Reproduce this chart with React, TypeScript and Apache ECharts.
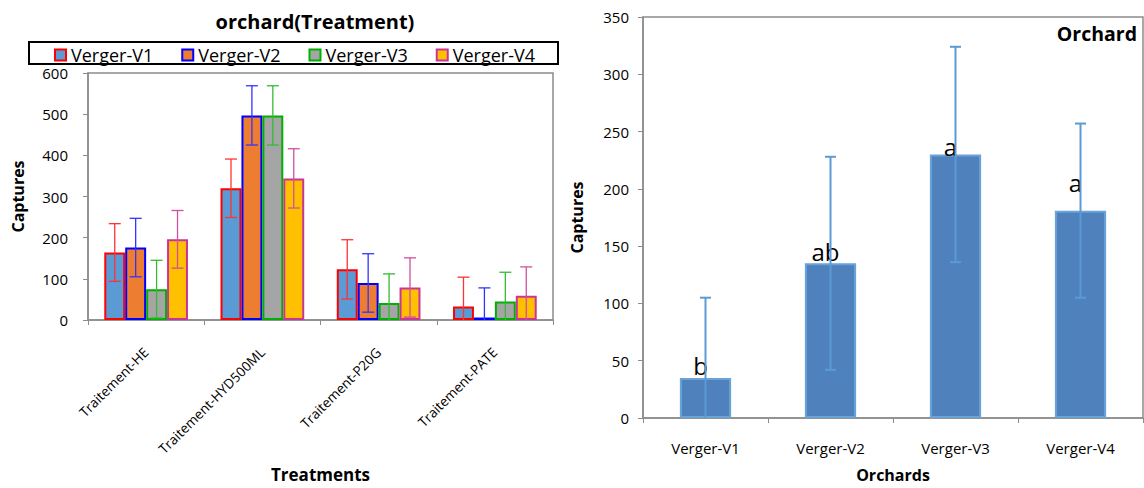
import React, { useEffect, useRef } from "react";
import * as echarts from "echarts";

// ---------- data ----------
const treatments = ["Traitement-HE", "Traitement-HYD500ML", "Traitement-P20G", "Traitement-PATE"];
const orchardNames = ["Verger-V1", "Verger-V2", "Verger-V3", "Verger-V4"];

const v1Means = [164, 320, 123, 33];
const v1Errors = [70, 71, 72, 71];
const v2Means = [176, 497, 90, 6];
const v2Errors = [71, 72, 71, 72];
const v3Means = [75, 497, 41, 45];
const v3Errors = [70, 72, 71, 71];
const v4Means = [196, 344, 79, 59];
const v4Errors = [70, 72, 72, 70];

const orchardMeans = [35, 135, 230, 181];
const orchardErrors = [70, 93, 94, 76];
const orchardLetters = ["b", "ab", "a", "a"];

const leftTitle = "orchard(Treatment)";
const rightTitle = "Orchard";

// ---------- styles ----------
const FONT = "Open Sans";
const fills = ["#5B9BD5", "#ED7D31", "#A5A5A5", "#FFC000"];
const borders = ["#FF0000", "#0000FF", "#00B000", "#CC3399"];
const errColors = ["#FF3333", "#3333FF", "#33BB33", "#D0509F"];
const AXIS_GRAY = "#8C8C8C";
const BAR_GAP_RATIO = 0.28;

function errorRender(seriesIdx: number, nSeries: number, gapRatio: number, color: string, capW: number, lw: number) {
  return (params: any, api: any) => {
    const cat = api.value(0);
    const low = api.value(1);
    const high = api.value(2);
    const catW = api.size([1, 0])[0];
    const bw = (catW * (1 - gapRatio)) / nSeries;
    const off = (seriesIdx - (nSeries - 1) / 2) * bw;
    const top = api.coord([cat, high]);
    const bot = api.coord([cat, Math.max(low, 0)]);
    const x = top[0] + off;
    const st = { stroke: color, lineWidth: lw };
    const children: any[] = [
      { type: "line", shape: { x1: x, y1: top[1], x2: x, y2: bot[1] }, style: st },
      { type: "line", shape: { x1: x - capW / 2, y1: top[1], x2: x + capW / 2, y2: top[1] }, style: st },
    ];
    if (low >= 0) {
      children.push({ type: "line", shape: { x1: x - capW / 2, y1: bot[1], x2: x + capW / 2, y2: bot[1] }, style: st });
    }
    return { type: "group", children };
  };
}

export default function App() {
  const ref = useRef<HTMLDivElement>(null);

  useEffect(() => {
    if (!ref.current) return;
    const chart = echarts.init(ref.current, null, { renderer: "svg" });

    const means = [v1Means, v2Means, v3Means, v4Means];
    const errs = [v1Errors, v2Errors, v3Errors, v4Errors];

    const barSeries: any[] = orchardNames.map((name, i) => ({
      name,
      type: "bar",
      xAxisIndex: 0,
      yAxisIndex: 0,
      barGap: "0%",
      barCategoryGap: BAR_GAP_RATIO * 100 + "%",
      data: means[i],
      itemStyle: { color: fills[i], borderColor: borders[i], borderWidth: 2 },
      z: 2,
    }));

    const errSeries: any[] = orchardNames.map((name, i) => ({
      name: name + " err",
      type: "custom",
      xAxisIndex: 0,
      yAxisIndex: 0,
      z: 3,
      renderItem: errorRender(i, 4, BAR_GAP_RATIO, errColors[i], 12, 1.3),
      encode: { x: 0, y: [1, 2] },
      data: means[i].map((m, k) => [k, m - errs[i][k], m + errs[i][k]]),
    }));

    const option: any = {
      animation: false,
      textStyle: { fontFamily: FONT, color: "#000" },
      graphic: [
        {
          type: "text",
          x: 315,
          y: 21,
          style: { text: leftTitle, font: `bold 20px "${FONT}"`, fill: "#000", textAlign: "center", textVerticalAlign: "middle" },
        },
        {
          type: "rect",
          shape: { x: 29, y: 42, width: 529, height: 22 },
          style: { fill: "none", stroke: "#000", lineWidth: 2 },
        },
        {
          type: "text",
          right: 7,
          top: 23,
          style: { text: rightTitle, font: `bold 19.5px "${FONT}"`, fill: "#000" },
        },
      ],
      legend: {
        left: 49,
        top: 41,
        itemGap: 28,
        itemWidth: 11,
        itemHeight: 11,
        icon: "rect",
        textStyle: { fontSize: 18, fontFamily: FONT, color: "#000" },
        data: orchardNames.map((n, i) => ({
          name: n,
          itemStyle: { color: fills[i], borderColor: borders[i], borderWidth: 2 },
        })),
      },
      grid: [
        { left: 88, top: 73, width: 465, height: 253, show: true, borderColor: AXIS_GRAY, borderWidth: 1.5, backgroundColor: "transparent" },
        { left: 643, top: 17, width: 500, height: 403, show: true, borderColor: AXIS_GRAY, borderWidth: 1.5, backgroundColor: "transparent" },
      ],
      xAxis: [
        {
          type: "category",
          gridIndex: 0,
          data: treatments,
          axisLine: { lineStyle: { color: AXIS_GRAY, width: 1.5 } },
          axisTick: { show: true, length: 5, lineStyle: { color: AXIS_GRAY } },
          axisLabel: { rotate: 45, fontSize: 13.5, color: "#000", margin: 30, fontFamily: FONT },
          name: "Treatments",
          nameLocation: "middle",
          nameGap: 146,
          nameTextStyle: { fontWeight: "bold", fontSize: 17, color: "#000", fontFamily: FONT },
        },
        {
          type: "category",
          gridIndex: 1,
          data: orchardNames,
          axisLine: { lineStyle: { color: AXIS_GRAY, width: 1.5 } },
          axisTick: { show: true, length: 5, lineStyle: { color: AXIS_GRAY } },
          axisLabel: { fontSize: 15, color: "#000", margin: 22, fontFamily: FONT },
          name: "Orchards",
          nameLocation: "middle",
          nameGap: 49,
          nameTextStyle: { fontWeight: "bold", fontSize: 16, color: "#000", fontFamily: FONT },
        },
      ],
      yAxis: [
        {
          type: "value",
          gridIndex: 0,
          min: 0,
          max: 600,
          interval: 100,
          splitLine: { show: false },
          axisLine: { show: true, lineStyle: { color: AXIS_GRAY, width: 1.5 } },
          axisTick: { show: true, length: 5, lineStyle: { color: AXIS_GRAY } },
          axisLabel: { fontSize: 15, color: "#000", margin: 20, fontFamily: FONT },
          name: "Captures",
          nameLocation: "middle",
          nameGap: 62,
          nameTextStyle: { fontWeight: "bold", fontSize: 16, color: "#000", fontFamily: FONT },
        },
        {
          type: "value",
          gridIndex: 1,
          min: 0,
          max: 350,
          interval: 50,
          splitLine: { show: false },
          axisLine: { show: true, lineStyle: { color: AXIS_GRAY, width: 1.5 } },
          axisTick: { show: true, length: 5, lineStyle: { color: AXIS_GRAY } },
          axisLabel: { fontSize: 15, color: "#000", margin: 14, fontFamily: FONT },
          name: "Captures",
          nameLocation: "middle",
          nameGap: 58,
          nameTextStyle: { fontWeight: "bold", fontSize: 16, color: "#000", fontFamily: FONT },
        },
      ],
      series: [
        ...barSeries,
        ...errSeries,
        {
          name: "Orchard captures",
          type: "bar",
          xAxisIndex: 1,
          yAxisIndex: 1,
          barWidth: "41%",
          itemStyle: { color: "#4F81BD", borderColor: "#6AA3DA", borderWidth: 2 },
          data: orchardMeans.map((v, i) => ({
            value: v,
            label: {
              show: true,
              position: "top",
              formatter: orchardLetters[i],
              fontSize: 24,
              color: "#000",
              fontFamily: FONT,
              distance: i === 3 ? 16 : i === 2 ? -4 : 0,
              offset: [-5, 0],
            },
          })),
          z: 2,
        },
        {
          name: "Orchard err",
          type: "custom",
          xAxisIndex: 1,
          yAxisIndex: 1,
          z: 3,
          renderItem: errorRender(0, 1, 0, "#5B9BD5", 11, 2),
          encode: { x: 0, y: [1, 2] },
          data: orchardMeans.map((m, k) => [k, m - orchardErrors[k], m + orchardErrors[k]]),
        },
      ],
    };

    chart.setOption(option);
    return () => chart.dispose();
  }, []);

  return <div ref={ref} style={{ position: "absolute", left: 0, top: 0, width: 1144, height: 488 }} />;
}
